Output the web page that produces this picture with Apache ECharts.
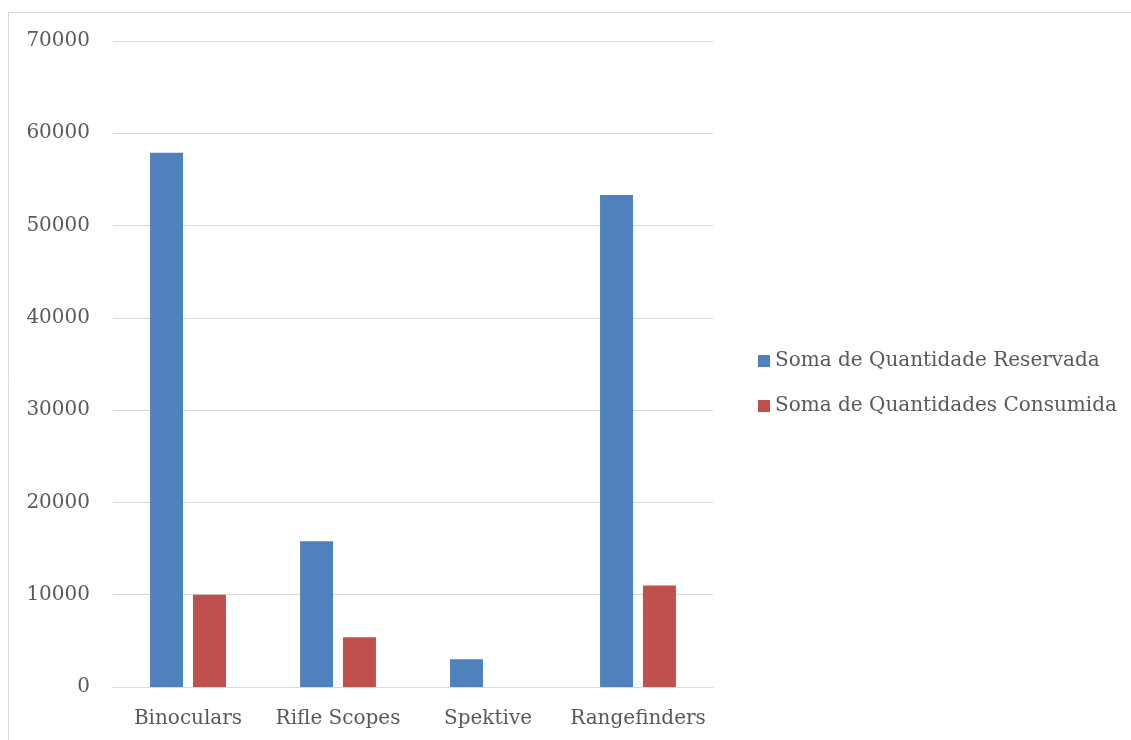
<!DOCTYPE html>
<html lang="pt">
<head>
    <meta charset="UTF-8">
    <title>Quantidades</title>
    <style>
        html, body { margin: 0; padding: 0; background: #fff; }
    </style>
</head>
<body>
<div id="main" style="width: 1131px;height:740px;"></div>
<script src="https://cdn.jsdelivr.net/npm/echarts@6/dist/echarts.min.js"></script>
<script>
    var categories = ['Binoculars', 'Rifle Scopes', 'Spektive', 'Rangefinders'];
    var reservada = [57900, 15800, 3000, 53300];
    var consumida = [10000, 5400, 0, 11000];
    var seriesNames = ['Soma de Quantidade Reservada', 'Soma de Quantidades Consumida'];

    var myChart = echarts.init(document.getElementById('main'));
    var font = '"DejaVu Serif", "Liberation Serif", serif';

    var option = {
        backgroundColor: '#fff',
        animation: false,
        textStyle: { fontFamily: font },
        graphic: [{
            type: 'rect',
            shape: { x: 8.5, y: 12.5, width: 1140, height: 760 },
            style: { fill: 'none', stroke: '#d9d9d9', lineWidth: 1 }
        }],
        grid: { left: 113, right: 418, top: 41, bottom: 53 },
        legend: {
            orient: 'vertical',
            left: 753,
            top: 346,
            itemWidth: 12,
            itemHeight: 12,
            itemGap: 25,
            icon: 'rect',
            data: seriesNames,
            textStyle: { color: '#595959', fontSize: 20, fontFamily: font }
        },
        xAxis: {
            type: 'category',
            data: categories,
            axisLine: { lineStyle: { color: '#d9d9d9' } },
            axisTick: { show: false },
            axisLabel: { color: '#595959', fontSize: 20, margin: 22, interval: 0, fontFamily: font }
        },
        yAxis: {
            type: 'value',
            min: 0,
            max: 70000,
            interval: 10000,
            axisLine: { show: false },
            axisTick: { show: false },
            splitLine: { lineStyle: { color: '#d9d9d9' } },
            axisLabel: {
                color: '#595959', fontSize: 20, margin: 23, fontFamily: font,
                formatter: function (v) { return String(v); }
            }
        },
        series: [
            {
                name: seriesNames[0],
                type: 'bar',
                data: reservada,
                barWidth: 33,
                barGap: '30%',
                itemStyle: { color: '#4f81bd' }
            },
            {
                name: seriesNames[1],
                type: 'bar',
                data: consumida,
                barWidth: 33,
                itemStyle: { color: '#c0504d' }
            }
        ]
    };

    myChart.setOption(option);
</script>
</body>
</html>
